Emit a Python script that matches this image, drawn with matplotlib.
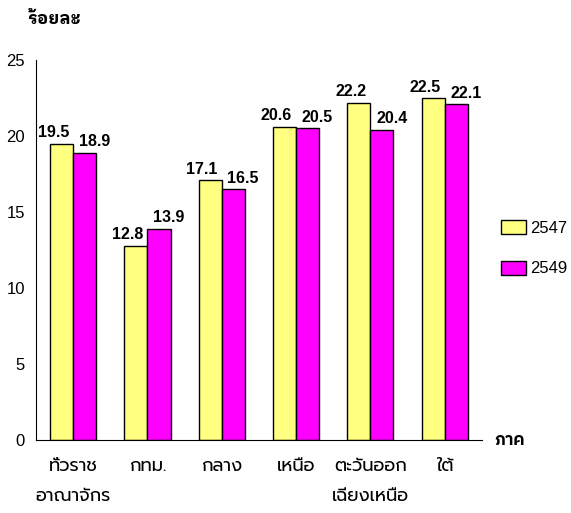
import matplotlib
matplotlib.use("Agg")
import matplotlib.pyplot as plt
import numpy as np

regions = ["ทั่วราช\nอาณาจักร", "กทม.", "กลาง", "เหนือ", "ตะวันออก\nเฉียงเหนือ", "ใต้"]
years = ["2547", "2549"]
val_2547 = [19.5, 12.8, 17.1, 20.6, 22.2, 22.5]
val_2549 = [18.9, 13.9, 16.5, 20.5, 20.4, 22.1]
colors = ["#FFFF80", "#FF00FF"]

thai = ["Prompt", "DejaVu Sans"]
num_font = "Liberation Sans"

fig = plt.figure(figsize=(5.71, 5.13), dpi=100)
ax = fig.add_axes([0.063, 0.142, 0.781, 0.741])

x = np.arange(len(regions))
w = 0.31
b1 = ax.bar(x - w / 2, val_2547, w, color=colors[0], edgecolor="black", linewidth=1, label=years[0])
b2 = ax.bar(x + w / 2, val_2549, w, color=colors[1], edgecolor="black", linewidth=1, label=years[1])

# value labels, pushed a bit outward like the original
for bars, dx in ((b1, -6), (b2, 7)):
    for r in bars:
        ax.annotate(f"{r.get_height():.1f}", (r.get_x() + r.get_width() / 2, r.get_height()),
                    xytext=(dx, 2.5), textcoords="offset points", ha="center", va="bottom",
                    fontsize=11.5, fontweight="bold", family=num_font)

ax.set_xlim(-0.5, len(regions) - 0.5)
ax.set_ylim(0, 25)
ax.set_yticks([0, 5, 10, 15, 20, 25])
ax.tick_params(axis="y", length=0, pad=8, labelsize=12)
for t in ax.get_yticklabels():
    t.set_family(num_font)
ax.set_xticks(x)
ax.set_xticklabels(regions, family=thai, fontsize=13, linespacing=2.0, va="top")
ax.tick_params(axis="x", length=0, pad=13)
ax.spines["top"].set_visible(False)
ax.spines["right"].set_visible(False)

fig.text(0.047, 0.962, "ร้อยละ", family=["IBM Plex Sans Thai Looped", "DejaVu Sans"],
         fontsize=12.5, fontweight="bold", va="center", ha="left")
fig.text(0.866, 0.142, "ภาค", family=["IBM Plex Sans Thai", "DejaVu Sans"],
         fontsize=12, fontweight="bold", va="center", ha="left")

ax.legend(loc="center left", bbox_to_anchor=(1.01, 0.505), frameon=False, handlelength=1.45,
          handleheight=0.9, labelspacing=1.5, handletextpad=0.3,
          prop={"family": num_font, "size": 12})

fig.savefig("out.png")
